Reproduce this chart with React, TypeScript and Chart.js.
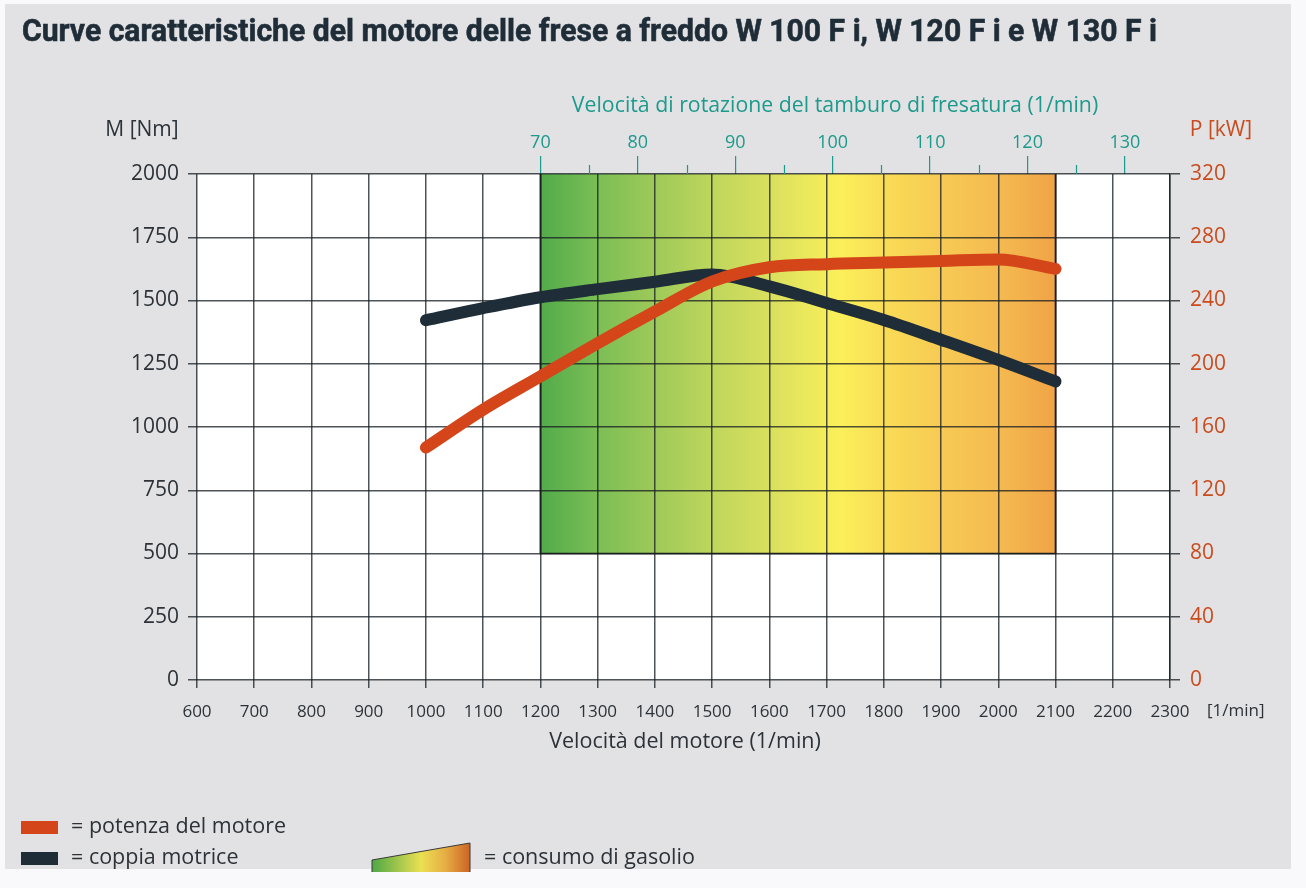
import React, { useEffect, useRef } from "react";
import { Chart, registerables } from "chart.js";

Chart.register(...registerables);

// ---------- data ----------
const TITLE = "Curve caratteristiche del motore delle frese a freddo W 100 F i, W 120 F i e W 130 F i";
const X_TITLE = "Velocità del motore (1/min)";
const X_UNIT = "[1/min]";
const TOP_TITLE = "Velocità di rotazione del tamburo di fresatura (1/min)";
const Y_LEFT_TITLE = "M [Nm]";
const Y_RIGHT_TITLE = "P [kW]";
const LEGEND_POWER = "= potenza del motore";
const LEGEND_TORQUE = "= coppia motrice";
const LEGEND_FUEL = "= consumo di gasolio";

const engineSpeedRange = [600, 2300];
const torqueRange = [0, 2000];
const powerRange = [0, 320];

const powerSpeed = [1000, 1100, 1200, 1300, 1400, 1500, 1600, 1700, 1800, 1900, 2000, 2100];
const powerKW = [147, 171, 192, 213, 233, 252, 261, 263, 264, 265, 266, 260];

const torqueSpeed = [1000, 1100, 1200, 1300, 1400, 1500, 1600, 1700, 1800, 1900, 2000, 2100];
const torqueNm = [1422, 1470, 1513, 1545, 1574, 1603, 1556, 1490, 1423, 1345, 1265, 1180];

// drum speed (1/min) versus engine speed: 70 at 1200, about 0.05875 per engine 1/min
const drumAtRef = [1200, 70];
const drumPerEngine = 0.05875;
const drumTicks = [70, 80, 90, 100, 110, 120, 130];
const drumMinorTicks = [75, 85, 95, 105, 115, 125];
const toDrum = (rpm: number) => drumAtRef[1] + (rpm - drumAtRef[0]) * drumPerEngine;

// fuel consumption zone
const zoneSpeed = [1200, 2100];
const zoneTorque = [500, 2000];
const zoneStops = [0, 0.11, 0.22, 0.33, 0.44, 0.55, 0.58, 0.67, 0.78, 0.89, 1];
const zoneColors = ["#52ab4a", "#7bbe55", "#9dc959", "#bdd65c", "#d8df5e", "#f3ec5c", "#fbf05a", "#f9dc56", "#f7ca53", "#f5ba50", "#f0a446"];

// ---------- style ----------
const FONT = "'Open Sans', 'DejaVu Sans', sans-serif";
const DARK = "#1f2d38";
const TEXT = "#2c3238";
const ORANGE = "#d4451a";
const ORANGE_TEXT = "#c94c1f";
const TEAL = "#1c9a8c";
const GRID = "rgba(22,30,36,0.76)";

const plain = (v: any) => String(v);

const decor = {
  id: "decor",
  beforeDraw(chart: any) {
    const { ctx, chartArea: a, scales } = chart;
    ctx.save();
    ctx.fillStyle = "#f9f9fb";
    ctx.fillRect(0, 0, chart.width, chart.height);
    ctx.fillStyle = "#e2e2e4";
    ctx.fillRect(5, 4, 1286, 865);
    ctx.fillStyle = "#ffffff";
    ctx.fillRect(a.left, a.top, a.right - a.left, a.bottom - a.top);
    const x = scales.x, y = scales.y;
    const x0 = x.getPixelForValue(zoneSpeed[0]);
    const x1 = x.getPixelForValue(zoneSpeed[1]);
    const yTop = y.getPixelForValue(zoneTorque[1]);
    const yBot = y.getPixelForValue(zoneTorque[0]);
    const g = ctx.createLinearGradient(x0, 0, x1, 0);
    zoneStops.forEach((s, i) => g.addColorStop(s, zoneColors[i]));
    ctx.fillStyle = g;
    ctx.fillRect(x0, yTop, x1 - x0, yBot - yTop);
    ctx.restore();
  },
  beforeDatasetsDraw(chart: any) {
    const { ctx, scales } = chart;
    const x = scales.x, y = scales.y, x2 = scales.x2;
    ctx.save();
    const x0 = x.getPixelForValue(zoneSpeed[0]);
    const x1 = x.getPixelForValue(zoneSpeed[1]);
    const yTop = y.getPixelForValue(zoneTorque[1]);
    const yBot = y.getPixelForValue(zoneTorque[0]);
    ctx.strokeStyle = "#1b1f1c";
    ctx.lineWidth = 1.7;
    ctx.beginPath();
    ctx.moveTo(x0, yTop);
    ctx.lineTo(x0, yBot);
    ctx.lineTo(x1, yBot);
    ctx.lineTo(x1, yTop);
    ctx.stroke();
    // minor drum ticks
    ctx.strokeStyle = TEAL;
    ctx.lineWidth = 1.2;
    drumMinorTicks.forEach((v) => {
      const px = Math.round(x2.getPixelForValue(v)) + 0.5;
      ctx.beginPath();
      ctx.moveTo(px, x2.bottom - 9);
      ctx.lineTo(px, x2.bottom);
      ctx.stroke();
    });
    ctx.restore();
  },
  afterDraw(chart: any) {
    const { ctx } = chart;
    ctx.save();
    // title
    ctx.fillStyle = DARK;
    ctx.font = `bold 31px Roboto, 'DejaVu Sans', sans-serif`;
    ctx.textBaseline = "alphabetic";
    ctx.textAlign = "left";
    const tw = ctx.measureText(TITLE).width;
    ctx.save();
    ctx.translate(22, 41);
    ctx.scale(1135 / tw, 1);
    ctx.fillText(TITLE, 0, 0);
    ctx.lineWidth = 0.6;
    ctx.strokeStyle = DARK;
    ctx.strokeText(TITLE, 0, 0);
    ctx.restore();

    ctx.textBaseline = "middle";
    // top title
    ctx.fillStyle = TEAL;
    ctx.font = `21.3px ${FONT}`;
    ctx.textAlign = "center";
    ctx.fillText(TOP_TITLE, 835, 106);
    // axis titles
    ctx.fillStyle = TEXT;
    ctx.font = `21px ${FONT}`;
    ctx.textAlign = "center";
    ctx.fillText(Y_LEFT_TITLE, 142, 130);
    ctx.fillStyle = ORANGE_TEXT;
    ctx.fillText(Y_RIGHT_TITLE, 1221, 130);
    ctx.fillStyle = TEXT;
    ctx.font = `21.5px ${FONT}`;
    ctx.fillText(X_TITLE, 685, 742);
    ctx.font = `17px ${FONT}`;
    ctx.textAlign = "left";
    ctx.fillText(X_UNIT, 1207, 711);

    // legend
    ctx.fillStyle = ORANGE;
    ctx.fillRect(21, 821, 37, 13);
    ctx.fillStyle = "#1f2d36";
    ctx.fillRect(21, 852, 37, 13);
    ctx.fillStyle = TEXT;
    ctx.font = `21.5px ${FONT}`;
    ctx.textAlign = "left";
    ctx.fillText(LEGEND_POWER, 71, 827);
    ctx.fillText(LEGEND_TORQUE, 71, 858);
    ctx.fillText(LEGEND_FUEL, 484, 858);
    // wedge
    const wg = ctx.createLinearGradient(372, 0, 470, 0);
    wg.addColorStop(0, "#4ea846");
    wg.addColorStop(0.5, "#ebe052");
    wg.addColorStop(0.75, "#e6ad45");
    wg.addColorStop(1, "#cc6424");
    ctx.fillStyle = wg;
    ctx.beginPath();
    ctx.moveTo(372, 872);
    ctx.lineTo(372, 860);
    ctx.lineTo(470, 843);
    ctx.lineTo(470, 872);
    ctx.closePath();
    ctx.fill();
    ctx.strokeStyle = "#3a3a36";
    ctx.lineWidth = 1;
    ctx.beginPath();
    ctx.moveTo(372, 872);
    ctx.lineTo(372, 860);
    ctx.lineTo(470, 843);
    ctx.lineTo(470, 872);
    ctx.stroke();
    ctx.restore();
  },
};

export default function App() {
  const ref = useRef<HTMLCanvasElement | null>(null);
  useEffect(() => {
    if (!ref.current) return;
    const chart = new Chart(ref.current, {
      type: "line",
      data: {
        datasets: [
          {
            label: "potenza del motore",
            data: powerSpeed.map((s, i) => ({ x: s, y: powerKW[i] })),
            yAxisID: "y1",
            xAxisID: "x",
            borderColor: ORANGE,
            borderWidth: 12,
            borderCapStyle: "round",
            borderJoinStyle: "round",
            pointRadius: 0,
            cubicInterpolationMode: "monotone",
            clip: false,
          } as any,
          {
            label: "coppia motrice",
            data: torqueSpeed.map((s, i) => ({ x: s, y: torqueNm[i] })),
            yAxisID: "y",
            xAxisID: "x",
            borderColor: DARK,
            borderWidth: 12,
            borderCapStyle: "round",
            borderJoinStyle: "round",
            pointRadius: 0,
            cubicInterpolationMode: "monotone",
            clip: false,
          } as any,
        ],
      },
      options: {
        animation: false,
        responsive: false,
        devicePixelRatio: 1,
        layout: { padding: 0 },
        plugins: { legend: { display: false }, title: { display: false }, tooltip: { enabled: false } },
        scales: {
          x: {
            type: "linear",
            position: "bottom",
            min: engineSpeedRange[0],
            max: engineSpeedRange[1],
            afterFit: (s: any) => { s.height = 888 - 680; },
            ticks: { stepSize: 100, color: TEXT, font: { family: FONT, size: 17 }, padding: 14, maxRotation: 0, autoSkip: false, callback: plain },
            grid: { color: GRID, lineWidth: 1.5, tickLength: 8 },
            border: { display: false },
          },
          x2: {
            type: "linear",
            position: "top",
            min: toDrum(engineSpeedRange[0]),
            max: toDrum(engineSpeedRange[1]),
            afterFit: (s: any) => { s.height = 174; },
            afterBuildTicks: (s: any) => { s.ticks = drumTicks.map((v) => ({ value: v })); },
            ticks: { color: TEAL, font: { family: FONT, size: 18 }, padding: 2, maxRotation: 0, autoSkip: false, callback: plain },
            grid: { drawOnChartArea: false, color: TEAL, lineWidth: 1.2, tickLength: 18 },
            border: { display: false },
          },
          y: {
            type: "linear",
            position: "left",
            min: torqueRange[0],
            max: torqueRange[1],
            afterFit: (s: any) => { s.width = 197; },
            ticks: { stepSize: 250, color: TEXT, font: { family: FONT, size: 21 }, padding: 9, callback: plain },
            grid: { color: GRID, lineWidth: 1.5, tickLength: 9 },
            border: { display: false },
          },
          y1: {
            type: "linear",
            position: "right",
            min: powerRange[0],
            max: powerRange[1],
            afterFit: (s: any) => { s.width = 1306 - 1170; },
            ticks: { stepSize: 40, color: ORANGE_TEXT, font: { family: FONT, size: 21 }, padding: 10, callback: plain },
            grid: { drawOnChartArea: false, color: GRID, lineWidth: 1.5, tickLength: 10 },
            border: { display: true, color: GRID, width: 1.5 },
          },
        },
      } as any,
      plugins: [decor],
    });
    return () => chart.destroy();
  }, []);
  return (
    <div style={{ position: "absolute", left: 0, top: 0, width: 1306, height: 888 }}>
      <canvas ref={ref} width={1306} height={888} style={{ display: "block", width: 1306, height: 888 }} />
    </div>
  );
}
